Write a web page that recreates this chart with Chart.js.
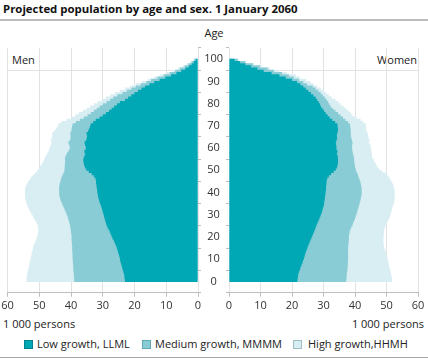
<!DOCTYPE html>
<html><head><meta charset="utf-8">
<script src="https://cdn.jsdelivr.net/npm/chart.js@4"></script>
<style>
html,body{margin:0;padding:0;background:#fff}
body{width:428px;height:359px;position:relative;overflow:hidden;font-family:"Open Sans",sans-serif;color:#222}
.abs{position:absolute;white-space:nowrap;font-size:11px;line-height:14px}
canvas{position:absolute;top:0}
.sq{position:absolute;width:7px;height:7px;border:1px solid}
</style></head><body>
<div class="abs" style="left:3px;top:1px;font-weight:bold;font-size:11.4px;line-height:15px;color:#111">Projected population by age and sex. 1 January 2060</div>
<div style="position:absolute;left:0;top:19px;width:428px;height:0;border-top:2px solid #bcbcbc"></div>
<div class="abs" style="left:204px;top:26px;width:20px;text-align:center">Age</div>
<div class="abs" style="left:12px;top:53px">Men</div>
<div class="abs" style="right:11px;top:53px">Women</div>
<div class="abs" style="left:3px;top:317px">1 000 persons</div>
<div class="abs" style="right:4px;top:317px">1 000 persons</div>
<div class="sq" style="left:24px;top:340px;background:#00a7b4;border-color:#00838d"></div>
<div class="abs" style="left:37px;top:337px">Low growth, LLML</div>
<div class="sq" style="left:142px;top:340px;background:#89ccd5;border-color:#5ea9b3"></div>
<div class="abs" style="left:155px;top:337px">Medium growth, MMMM</div>
<div class="sq" style="left:293px;top:340px;background:#d9eef3;border-color:#9fbfc6"></div>
<div class="abs" style="left:308px;top:337px">High growth,HHMH</div>
<div style="position:absolute;left:0;top:357px;width:428px;height:0;border-top:1.5px solid #a8a8a8"></div>
<canvas id="men" width="214" height="340" style="left:0"></canvas>
<canvas id="women" width="238" height="340" style="left:190px"></canvas>
<script>
const ages = Array.from({length:100},(_,i)=>i);
const seriesNames = ['Low growth, LLML','Medium growth, MMMM','High growth,HHMH'];
const xTickValues = [0,10,20,30,40,50,60];
const ageTickValues = [0,10,20,30,40,50,60,70,80,90,100];

const menLow = [
23.0,23.1,23.2,23.3,23.5,23.7,23.9,24.1,24.3,24.5,
24.6,24.8,25.0,25.2,25.4,25.6,25.9,26.2,26.5,26.9,
27.2,27.5,27.8,28.1,28.5,28.8,29.0,29.2,29.4,29.6,
29.8,30.0,30.2,30.4,30.6,30.9,31.1,31.3,31.5,31.6,
31.7,31.8,31.9,32.0,32.1,32.1,32.3,32.8,33.5,34.4,
35.2,35.6,35.9,36.0,36.1,36.0,35.7,35.5,35.8,35.4,
35.3,35.6,35.7,35.2,35.0,34.9,35.1,34.6,34.3,34.0,
33.8,33.0,32.2,31.0,30.0,29.0,28.0,27.2,26.4,25.5,
24.6,23.0,22.0,21.0,20.0,18.9,17.8,16.7,15.3,13.8,
12.1,10.3,8.5,6.8,5.3,4.0,2.9,2.0,1.3,0.7];
const menMedium = [
39.0,39.0,39.1,39.1,39.2,39.2,39.3,39.3,39.4,39.4,
39.5,39.5,39.5,39.6,39.6,39.6,39.7,39.7,39.8,39.8,
39.8,39.9,40.0,40.1,40.2,40.3,40.5,40.7,40.9,41.1,
41.4,41.7,42.0,42.3,42.6,42.9,43.2,43.4,43.6,43.7,
43.7,43.8,43.7,43.6,43.4,43.2,43.0,42.7,42.4,42.1,
42.0,42.0,41.9,41.9,41.8,41.9,41.6,41.2,40.8,40.5,
40.3,40.6,40.8,40.3,40.1,40.1,40.2,39.9,39.8,39.7,
39.5,38.5,37.2,36.0,34.8,33.8,32.8,31.9,31.0,30.0,
28.8,27.7,26.7,25.4,23.8,22.4,21.0,19.6,18.0,16.3,
14.8,12.8,10.8,8.9,7.2,5.7,4.2,3.0,2.0,1.2];
const menHigh = [
54.0,54.0,53.9,53.8,53.6,53.4,53.3,53.1,53.0,52.8,
52.7,52.5,52.4,52.2,52.0,51.9,51.6,51.3,51.0,50.8,
50.6,50.4,50.3,50.3,50.3,50.5,50.8,51.2,51.6,52.0,
52.4,52.8,53.2,53.5,53.8,54.0,54.2,54.4,54.5,54.5,
54.5,54.5,54.3,54.0,53.6,53.1,52.6,52.0,51.3,50.7,
50.2,49.8,49.3,48.9,48.5,48.2,47.8,47.4,47.1,46.8,
46.6,46.3,46.1,46.4,46.0,45.8,45.9,45.3,44.7,44.3,
44.0,43.0,41.4,39.8,38.6,37.5,36.3,35.1,34.0,32.8,
31.6,30.3,29.0,27.6,26.1,24.6,23.0,21.4,19.6,17.7,
15.8,13.8,11.8,9.8,8.0,6.3,4.8,3.6,2.5,1.5];
const womenLow = [
21.7,21.8,21.9,22.0,22.2,22.5,22.7,23.0,23.3,23.5,
23.8,24.0,24.2,24.4,24.7,24.9,25.2,25.5,25.8,26.1,
26.4,26.7,27.0,27.3,27.5,27.8,28.1,28.4,28.7,29.0,
29.3,29.5,29.7,29.9,30.1,30.2,30.3,30.4,30.5,30.6,
30.7,30.8,30.8,30.9,30.9,31.0,31.2,31.7,32.4,33.2,
33.9,34.3,34.5,34.6,34.6,34.6,34.4,34.2,34.4,34.1,
34.1,34.0,33.9,34.1,34.3,34.2,34.3,34.5,34.6,34.5,
34.4,33.7,32.8,32.0,31.3,30.7,30.2,29.7,29.2,28.9,
28.5,28.0,27.5,26.8,26.0,25.2,24.4,23.6,22.7,21.6,
20.0,18.0,16.0,13.5,11.0,9.0,7.0,5.2,3.5,1.8];
const womenMedium = [
37.2,37.3,37.3,37.4,37.5,37.6,37.6,37.7,37.7,37.8,
37.8,37.8,37.8,37.8,37.8,37.8,37.9,37.9,38.0,38.0,
38.1,38.2,38.3,38.5,38.8,39.2,39.4,39.7,40.0,40.2,
40.5,40.7,40.9,41.1,41.3,41.5,41.7,41.8,42.0,42.1,
42.1,42.1,42.0,41.9,41.7,41.5,41.2,41.0,40.7,40.4,
40.2,40.0,39.9,39.8,39.7,39.7,39.5,39.3,39.2,39.1,
39.0,39.1,39.2,39.0,38.8,38.6,38.7,38.6,38.6,38.5,
38.4,37.8,37.0,36.2,35.4,34.6,33.8,33.0,32.3,31.9,
31.5,31.0,30.4,29.8,29.1,28.4,27.5,26.6,24.8,23.6,
22.2,20.6,19.0,16.8,14.3,12.3,9.8,7.6,5.2,2.8];
const womenHigh = [
51.8,51.7,51.6,51.4,51.2,51.1,50.9,50.7,50.6,50.4,
50.3,50.1,49.9,49.7,49.4,49.2,49.1,49.0,49.0,49.0,
49.1,49.1,49.2,49.3,49.5,49.8,50.1,50.5,50.8,51.1,
51.3,51.5,51.7,51.9,52.1,52.4,52.5,52.6,52.6,52.6,
52.6,52.5,52.3,52.1,51.7,51.3,50.9,50.3,49.7,48.5,
47.6,47.1,46.7,46.3,45.9,45.5,45.4,45.3,45.2,45.1,
45.0,44.8,44.4,44.6,44.3,44.1,44.0,43.7,43.4,43.5,
43.4,42.6,41.8,40.5,39.2,38.6,38.0,37.2,36.4,35.4,
34.7,33.8,32.6,31.7,30.9,30.2,29.1,27.9,26.8,25.9,
24.5,22.5,21.2,18.3,15.8,13.0,10.5,8.0,5.3,3.0];

const colors = ['#00a7b4','#89ccd5','#d9eef3'];
const FONT = {family:'"Open Sans", sans-serif', size:11};
const TXT = '#333';
const GRID = '#e2e2e2';
const TICKC = '#bdbdbd';

function makeDatasets(series){
  return series.map((vals,k)=>({
    label: seriesNames[k],
    data: ages.map((a,i)=>({x: vals[i], y: a + 0.5})),
    backgroundColor: colors[k],
    borderWidth: 0,
    grouped: false,
    barThickness: 3.1,
    inflateAmount: 0
  }));
}
function ageGrid(ctx){ return (ctx.tick && ctx.tick.value === 100) ? GRID : 'rgba(0,0,0,0)'; }

const baseOptions = {
  indexAxis: 'y',
  responsive: false,
  animation: false,
  events: [],
  plugins: {legend:{display:false}, tooltip:{enabled:false}, title:{display:false}}
};

new Chart(document.getElementById('men'), {
  type: 'bar',
  data: {datasets: makeDatasets([menLow, menMedium, menHigh])},
  options: Object.assign({}, baseOptions, {
    layout: {padding: {left: 7.5, top: 48, right: 0, bottom: 0}},
    scales: {
      x: {type:'linear', reverse:true, min:0, max:60,
          afterBuildTicks(s){ s.ticks = xTickValues.map(v=>({value:v})); },
          ticks:{font:FONT, color:TXT, padding:3, maxRotation:0},
          grid:{color:GRID, tickColor:TICKC, tickLength:4},
          border:{display:true, color:TICKC},
          afterFit(s){ s.height = 47.3; }},
      y: {type:'linear', position:'right', min:0, max:100,
          afterBuildTicks(s){ s.ticks = ageTickValues.map(v=>({value:v})); },
          ticks:{display:false},
          grid:{color:ageGrid, tickColor:TICKC, tickLength:3},
          border:{display:false},
          afterFit(s){ s.width = 16; }}
    }
  })
});

new Chart(document.getElementById('women'), {
  type: 'bar',
  data: {datasets: makeDatasets([womenLow, womenMedium, womenHigh])},
  options: Object.assign({}, baseOptions, {
    layout: {padding: {left: 0, top: 48, right: 10, bottom: 0}},
    scales: {
      x: {type:'linear', min:0, max:60,
          afterBuildTicks(s){ s.ticks = xTickValues.map(v=>({value:v})); },
          ticks:{font:FONT, color:TXT, padding:3, maxRotation:0},
          grid:{color:GRID, tickColor:TICKC, tickLength:4},
          border:{display:true, color:TICKC},
          afterFit(s){ s.height = 47.3; }},
      y: {type:'linear', position:'left', min:0, max:100,
          afterBuildTicks(s){ s.ticks = ageTickValues.map(v=>({value:v})); },
          ticks:{font:FONT, color:TXT, padding:3, crossAlign:'center'},
          grid:{color:ageGrid, tickColor:TICKC, tickLength:3},
          border:{display:false},
          afterFit(s){ s.width = 39; }}
    }
  })
});
</script>
</body></html>
